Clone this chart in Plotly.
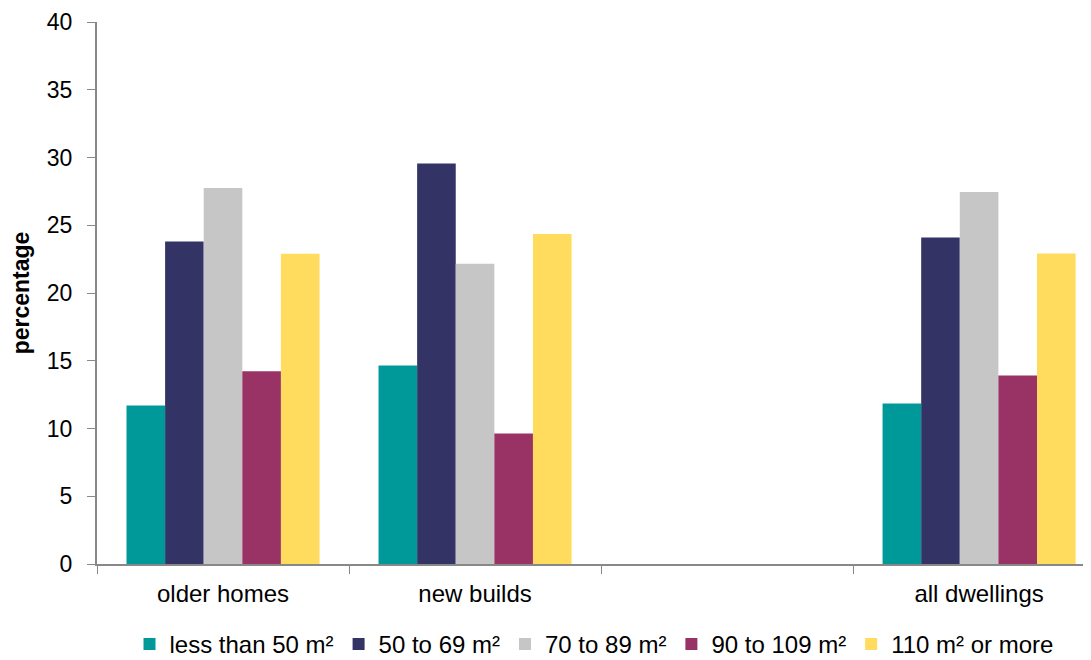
import plotly.graph_objects as go

categories = ["older homes", "new builds", " ", "all dwellings"]
series_names = ["less than 50 m²", "50 to 69 m²", "70 to 89 m²", "90 to 109 m²", "110 m² or more"]
less_than_50 = [11.7, 14.65, None, 11.85]
from_50_to_69 = [23.8, 29.55, None, 24.1]
from_70_to_89 = [27.75, 22.15, None, 27.45]
from_90_to_109 = [14.22, 9.64, None, 13.92]
from_110_up = [22.9, 24.35, None, 22.92]
colors = ["#009999", "#333366", "#C6C6C6", "#993366", "#FFDB5E"]

series_values = [less_than_50, from_50_to_69, from_70_to_89, from_90_to_109, from_110_up]

fig = go.Figure()
for name, vals, col in zip(series_names, series_values, colors):
    fig.add_trace(go.Bar(
        x=categories, y=vals, name=name,
        marker=dict(color=col, line=dict(width=0)),
    ))

font_family = "Liberation Sans, Arial, sans-serif"
fig.update_layout(
    width=1083, height=659,
    margin=dict(l=89, r=0, t=14, b=103),
    paper_bgcolor="white", plot_bgcolor="white",
    barmode="group", bargap=0.234, bargroupgap=0,
    font=dict(family=font_family, size=23, color="#000000"),
    showlegend=True,
    legend=dict(orientation="h", x=0.5, xanchor="center", y=-0.19, yanchor="bottom",
                font=dict(size=24), itemwidth=30, traceorder="normal",
                itemclick=False, tracegroupgap=0),
)
fig.update_xaxes(
    type="category", range=[-0.5, 3.444],
    showline=True, linecolor="#888888", linewidth=2,
    ticks="outside", tickson="boundaries", ticklen=8, tickcolor="#888888", tickwidth=1,
    showgrid=False, zeroline=False,
    tickfont=dict(size=24), ticklabelstandoff=7,
)
fig.update_yaxes(
    range=[0, 40], dtick=5, tick0=0,
    showline=True, linecolor="#888888", linewidth=2,
    ticks="outside", ticklen=8, tickcolor="#888888", tickwidth=1,
    showgrid=False, zeroline=False,
    tickfont=dict(size=23), ticklabelstandoff=10,
    title=dict(text="<b>percentage</b>", font=dict(size=23), standoff=16),
)

fig.write_html("out.html", post_script="document.documentElement.style.overflow='hidden';document.body.style.overflow='hidden';")
